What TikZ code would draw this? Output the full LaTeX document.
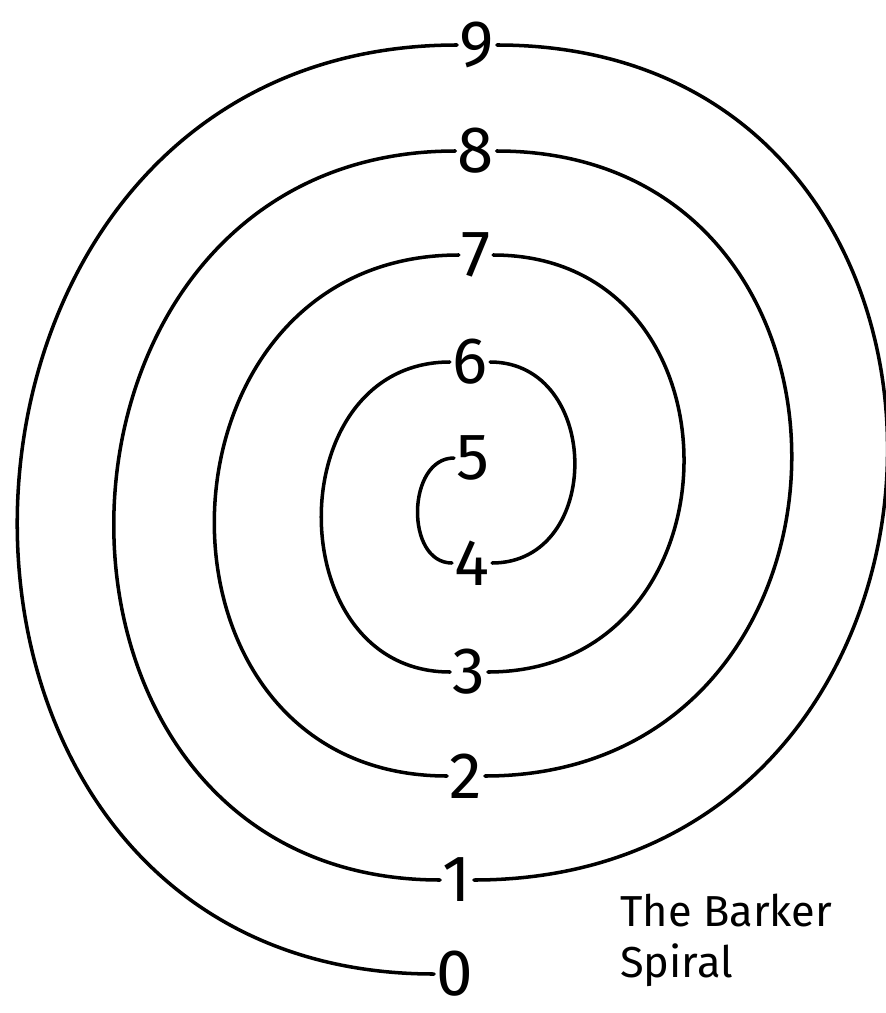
\documentclass[tikz,border=0pt]{standalone}
\usepackage{fontspec}
\setmainfont{Fira Sans}
\begin{document}
\begin{tikzpicture}[x=0.03cm, y=-0.03cm, line cap=round]
\tikzset{
  digit/.style={inner sep=2pt, font=\fontsize{56}{60}\selectfont},
  coil/.style={black, line width=3pt},
}
\useasboundingbox (0,0) rectangle (885,1013);

% the numbers on the axis
\node[digit] (n9) at (477,45) {9};
\node[digit] (n8) at (476,151) {8};
\node[digit] (n7) at (476,255) {7};
\node[digit] (n6) at (470,362) {6};
\node[digit] (n5) at (473,458) {5};
\node[digit] (n4) at (472,563) {4};
\node[digit] (n3) at (469,672) {3};
\node[digit] (n2) at (466,776) {2};
\node[digit] (n1) at (457,880) {1};
\node[digit] (n0) at (455,974) {0};

% half turns, left and right
\draw[coil] (n0) to[out=180, in=180, looseness=1.57] (n9);
\draw[coil] (n9) to[out=0, in=0, looseness=1.64] (n1);
\draw[coil] (n1) to[out=180, in=180, looseness=1.56] (n8);
\draw[coil] (n8) to[out=0, in=0, looseness=1.64] (n2);
\draw[coil] (n2) to[out=180, in=180, looseness=1.56] (n7);
\draw[coil] (n7) to[out=0, in=0, looseness=1.58] (n3);
\draw[coil] (n3) to[out=180, in=180, looseness=1.42] (n6);
\draw[coil] (n6) to[out=0, in=0, looseness=1.42] (n4);
\draw[coil] (n4) to[out=180, in=180, looseness=1.15] (n5);

\node[anchor=north west, align=left, inner sep=0pt, font=\fontsize{37}{43}\selectfont] (title) at (620,894) {The Barker\\Spiral};

\end{tikzpicture}
\end{document}
